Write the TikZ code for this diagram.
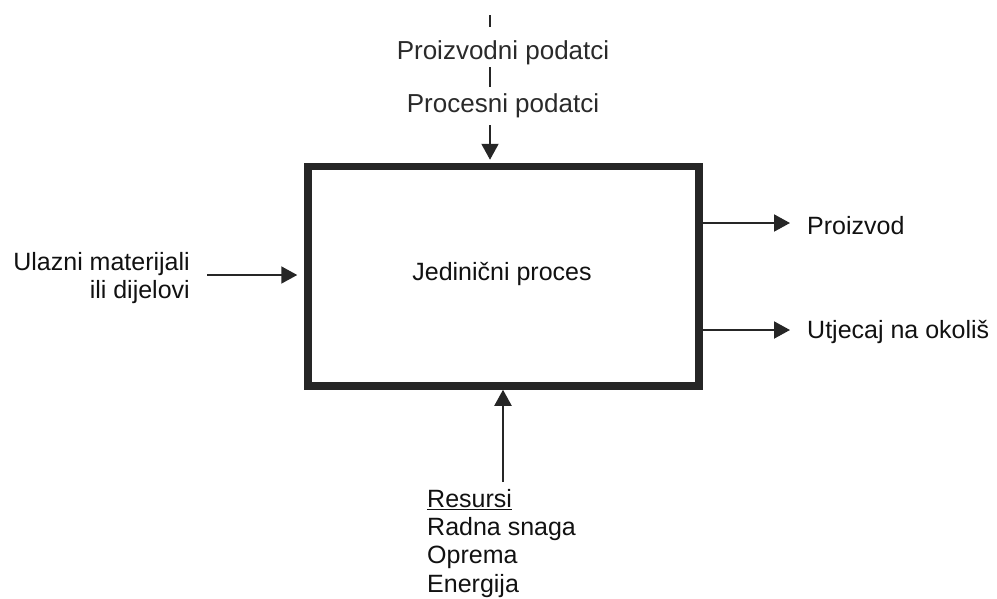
\documentclass[tikz,border=0pt]{standalone}
\usepackage{fontspec}
\setmainfont{Liberation Sans}
\usetikzlibrary{arrows.meta}
\definecolor{ink}{HTML}{262626}
\definecolor{txt}{HTML}{111111}
\definecolor{toptxt}{HTML}{2A2A2A}
\tikzset{
  lbl/.style={inner sep=0pt, text=txt, font=\fontsize{25}{28.3}\selectfont},
  toplbl/.style={lbl, text=toptxt, font=\fontsize{26}{30}\selectfont},
  conn/.style={draw=ink, line width=2pt, -{Triangle[length=16pt,width=17pt]}},
  tick/.style={draw=ink, line width=2pt},
  procbox/.style={draw=ink, line width=7.5pt, minimum width=391pt, minimum height=219.5pt, inner sep=0pt}
}
\begin{document}
\begin{tikzpicture}[x=1pt,y=-1pt]
\useasboundingbox (0,0) rectangle (997,598);
% box
\node[procbox] (box) at (503.5,276.25) {};
\node[lbl, anchor=base] (jp) at (502,280) {Jedinični proces};
% top
\coordinate (t1a) at (490,15);
\coordinate (t1b) at (490,27);
\coordinate (t2a) at (490,67);
\coordinate (t2b) at (490,87);
\coordinate (t3) at (490,125);
\node[toplbl, anchor=base] (pp) at (503,59) {Proizvodni podatci};
\node[toplbl, anchor=base] (prp) at (503,112) {Procesni podatci};
\draw[tick] (t1a) -- (t1b);
\draw[tick] (t2a) -- (t2b);
\draw[conn, shorten >=3pt] (t3) -- (t3 |- box.north);
% left
\node[lbl, align=right, anchor=east] (ul) at (190,278) {Ulazni materijali\\ili dijelovi};
\coordinate (la) at (207,275);
\draw[conn, shorten >=7pt] (la) -- (la -| box.west);
% right
\coordinate (r1) at (790,223);
\coordinate (r2) at (790,330);
\node[lbl, anchor=base west] (pr) at (807,234) {Proizvod};
\node[lbl, anchor=base west] (ut) at (807,338) {Utjecaj na okoliš};
\draw[conn] (r1 -| box.east) -- (r1);
\draw[conn] (r2 -| box.east) -- (r2);
% bottom
\coordinate (b1) at (503,482);
\draw[conn] (b1) -- (b1 |- box.south);
\node[lbl, align=left, anchor=north west] (res) at (427,489) {\underline{Resursi}\\Radna snaga\\Oprema\\Energija};
\end{tikzpicture}
\end{document}
